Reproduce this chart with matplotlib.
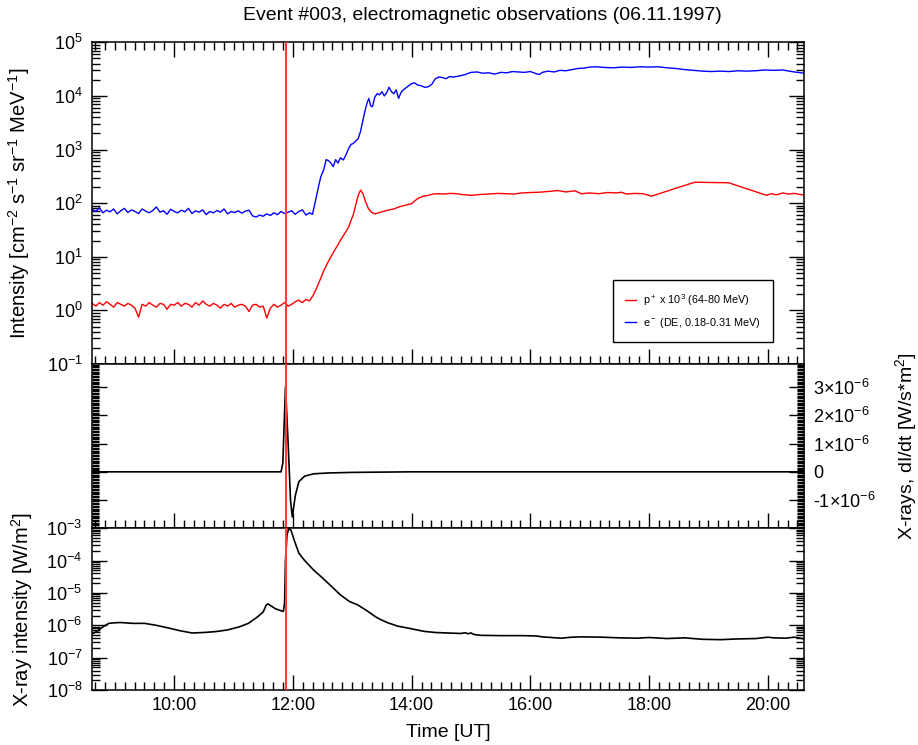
import numpy as np
import matplotlib
matplotlib.use("Agg")
import matplotlib.pyplot as plt
from matplotlib.ticker import MultipleLocator, FixedLocator, FixedFormatter, LogLocator, NullFormatter, FuncFormatter

plt.rcParams['font.family'] = ['Liberation Sans', 'DejaVu Sans']
plt.rcParams['mathtext.fontset'] = 'custom'
plt.rcParams['mathtext.rm'] = 'Liberation Sans'
plt.rcParams['mathtext.it'] = 'Liberation Sans:italic'
plt.rcParams['mathtext.bf'] = 'Liberation Sans:bold'
plt.rcParams['font.size'] = 13

# time in decimal hours (UT)
base_t = [8.62, 8.68, 8.74, 8.80, 8.86, 8.92, 8.98, 9.04, 9.10, 9.16, 9.22, 9.28, 9.34, 9.40,
          9.46, 9.52, 9.58, 9.64, 9.70, 9.76, 9.82, 9.88, 9.94, 10.00, 10.06, 10.12, 10.18,
          10.24, 10.30, 10.36, 10.42, 10.48, 10.54, 10.60, 10.66, 10.72, 10.78, 10.84, 10.90,
          10.96, 11.02, 11.08, 11.14, 11.20, 11.26, 11.32, 11.38, 11.44, 11.50, 11.56, 11.62,
          11.68, 11.74, 11.80, 11.86, 11.92, 11.98, 12.04, 12.10, 12.16, 12.22, 12.28]

# electrons (DE, 0.18-0.31 MeV)
e_base = [76, 70, 82, 66, 74, 69, 78, 63, 72, 80, 67, 75, 70, 64, 78, 71, 66, 73, 85, 68, 72,
          62, 77, 70, 66, 74, 69, 80, 64, 72, 68, 75, 61, 70, 66, 73, 68, 78, 63, 70, 67, 72,
          65, 71, 74, 58, 55, 60, 57, 63, 59, 66, 61, 70, 64, 68, 72, 62, 70, 75, 60, 66]
e_t = [12.33, 12.38, 12.43, 12.47, 12.52, 12.56, 12.60, 12.64, 12.68, 12.72, 12.76, 12.80,
       12.85, 12.89, 12.94, 12.98, 13.02, 13.06, 13.10, 13.14, 13.18, 13.21, 13.25, 13.28,
       13.31, 13.34, 13.38, 13.42, 13.46, 13.50, 13.54, 13.58, 13.62, 13.66, 13.70, 13.74,
       13.78, 13.82, 13.86, 13.90, 13.95, 14.00, 14.05, 14.10, 14.16, 14.22, 14.28, 14.34,
       14.40, 14.46, 14.52, 14.58, 14.64, 14.70, 14.80, 14.90, 15.00, 15.10, 15.20, 15.30,
       15.40, 15.50, 15.60, 15.70, 15.80, 15.90, 16.00, 16.10, 16.15, 16.20, 16.30, 16.40,
       16.50, 16.60, 16.70, 16.80, 16.90, 17.00, 17.10, 17.25, 17.40, 17.55, 17.70, 17.85,
       18.00, 18.15, 18.30, 18.45, 18.60, 18.75, 18.90, 19.05, 19.20, 19.35, 19.50, 19.65,
       19.80, 19.95, 20.10, 20.25, 20.40, 20.50, 20.62]
e_v = [62, 110, 200, 310, 420, 650, 620, 560, 480, 650, 560, 700, 640, 780, 1050, 1250, 1300,
       1450, 1600, 2200, 3500, 5000, 7500, 9000, 6500, 6300, 9500, 11000, 10500, 12000, 10000,
       11500, 14500, 12000, 11000, 13000, 9000, 11500, 13000, 14000, 15500, 17000, 17500,
       16000, 15500, 14500, 14800, 16500, 21000, 22500, 22000, 21000, 23000, 22500, 23500,
       25000, 27500, 28000, 26500, 27000, 25500, 27500, 27000, 28500, 28000, 27500, 28500,
       26000, 25000, 27500, 29000, 28000, 30000, 29500, 31000, 32500, 33000, 34500, 35000,
       34000, 33500, 34500, 34000, 35000, 34500, 35000, 33500, 32500, 31000, 30000, 29000,
       28500, 29000, 28500, 29500, 29000, 29500, 30500, 30000, 30500, 28500, 27500, 26500]

# protons x 10^3 (64-80 MeV)
p_base = [1.35, 1.2, 1.4, 1.25, 1.45, 1.3, 1.15, 1.4, 1.3, 1.2, 1.35, 1.25, 1.1, 0.75, 1.3,
          1.2, 1.4, 1.25, 1.15, 1.35, 1.3, 1.05, 1.3, 1.25, 1.4, 1.2, 1.35, 1.3, 1.15, 1.4,
          1.25, 1.5, 1.3, 1.2, 1.35, 1.25, 1.1, 1.3, 1.2, 1.35, 1.15, 1.25, 1.3, 1.2, 0.95,
          1.25, 1.3, 1.15, 1.2, 0.72, 1.1, 1.3, 1.15, 1.25, 1.4, 1.2, 1.3, 1.45, 1.55, 1.4,
          1.6, 1.5]
p_t = [12.34, 12.40, 12.46, 12.52, 12.58, 12.64, 12.70, 12.76, 12.82, 12.88, 12.94, 12.98,
       13.02, 13.06, 13.10, 13.14, 13.18, 13.22, 13.27, 13.32, 13.38, 13.44, 13.52, 13.60,
       13.70, 13.80, 13.90, 14.00, 14.06, 14.12, 14.20, 14.28, 14.36, 14.44, 14.55, 14.65,
       14.75, 14.85, 15.00, 15.15, 15.30, 15.45, 15.60, 15.73, 15.85, 16.00, 16.15, 16.30,
       16.46, 16.60, 16.75, 16.86, 17.00, 17.15, 17.30, 17.45, 17.53, 17.62, 17.75, 17.90,
       18.04, 18.77, 19.34, 19.98, 20.05, 20.15, 20.25, 20.35, 20.45, 20.55, 20.62]
p_v = [1.9, 2.6, 3.8, 5.5, 7.5, 10, 13, 17, 22, 28, 36, 48, 62, 95, 140, 175, 150, 110, 80,
       68, 63, 66, 70, 74, 78, 86, 92, 98, 112, 125, 135, 140, 148, 150, 148, 152, 150, 145,
       140, 145, 148, 152, 150, 148, 155, 158, 160, 165, 172, 162, 170, 150, 155, 150, 158,
       155, 160, 148, 152, 150, 135, 246, 240, 140, 150, 143, 155, 148, 152, 145, 142]

# X-ray derivative dI/dt [W/s*m^2]
d_t = [8.62, 11.80, 11.83, 11.875, 11.92, 11.96, 11.99, 12.04, 12.10, 12.20, 12.35, 12.60,
       13.00, 14.00, 20.62]
d_v = [0, 0, 0.3e-6, 3.02e-6, 1.0e-6, -1.0e-6, -1.6e-6, -0.85e-6, -0.35e-6, -0.15e-6,
       -0.07e-6, -0.04e-6, -0.02e-6, 0, 0]

# GOES X-ray intensity [W/m^2]
x_t = [8.62, 8.70, 8.80, 8.90, 9.00, 9.10, 9.30, 9.50, 9.70, 9.90, 10.10, 10.30, 10.50,
       10.70, 10.90, 11.10, 11.25, 11.40, 11.50, 11.55, 11.58, 11.63, 11.70, 11.78, 11.84,
       11.86, 11.875, 11.90, 11.93, 11.97, 12.02, 12.10, 12.20, 12.35, 12.50, 12.65, 12.80,
       12.95, 13.09, 13.25, 13.40, 13.48, 13.60, 13.76, 14.00, 14.21, 14.40, 14.60, 14.83,
       14.90, 14.95, 15.00, 15.05, 15.17, 15.50, 15.84, 16.10, 16.20, 16.52, 16.70, 16.86,
       17.20, 17.50, 17.80, 18.00, 18.30, 18.60, 18.90, 19.20, 19.50, 19.80, 20.00, 20.10,
       20.30, 20.45, 20.62]
x_v = [5.5e-7, 6.5e-7, 9e-7, 1.15e-6, 1.2e-6, 1.22e-6, 1.15e-6, 1.15e-6, 1.0e-6, 8.3e-7,
       6.8e-7, 5.8e-7, 6.0e-7, 6.4e-7, 7.2e-7, 9e-7, 1.15e-6, 1.8e-6, 2.6e-6, 4.2e-6, 4.6e-6,
       4.0e-6, 3.3e-6, 2.9e-6, 2.7e-6, 5e-6, 1.0e-4, 6e-4, 1.0e-3, 8.5e-4, 4.4e-4, 1.7e-4,
       1.0e-4, 5.1e-5, 2.9e-5, 1.6e-5, 8.7e-6, 5.5e-6, 4.3e-6, 2.8e-6, 1.8e-6, 1.5e-6,
       1.2e-6, 9.5e-7, 7.8e-7, 6.5e-7, 6.0e-7, 5.8e-7, 5.6e-7, 5.9e-7, 5.5e-7, 5.8e-7,
       5.2e-7, 4.9e-7, 4.8e-7, 4.8e-7, 4.7e-7, 4.4e-7, 4.0e-7, 4.3e-7, 4.4e-7, 4.3e-7,
       4.1e-7, 4.0e-7, 4.2e-7, 3.9e-7, 4.1e-7, 3.7e-7, 3.6e-7, 3.8e-7, 3.9e-7, 4.3e-7,
       4.1e-7, 4.0e-7, 4.3e-7, 3.8e-7]

onset = 11.89
mid_ticks = [-1e-6, 0, 1e-6, 2e-6, 3e-6]
mid_labels = [r'-1$×10^{-6}$', '0', r'1$×10^{-6}$', r'2$×10^{-6}$', r'3$×10^{-6}$']

e_all_t = base_t + e_t
e_all_v = e_base + e_v
p_all_t = base_t + p_t
p_all_v = p_base + p_v

fig = plt.figure(figsize=(9.18, 7.45), dpi=100)
ax1 = fig.add_axes([0.1005, 0.5114, 0.7753, 0.4318])
ax2 = fig.add_axes([0.1005, 0.2909, 0.7753, 0.2205])
ax3 = fig.add_axes([0.1005, 0.0738, 0.7753, 0.2171])

for ax in (ax1, ax2, ax3):
    ax.set_xlim(8.62, 20.61)
    ax.xaxis.set_major_locator(MultipleLocator(2))
    ax.xaxis.set_minor_locator(MultipleLocator(1 / 6))
    ax.tick_params(which='major', direction='in', length=11, width=1)
    ax.tick_params(which='minor', direction='in', length=5.5, width=1)
    ax.tick_params(axis='y', which='both', left=True, right=True)
    for s in ax.spines.values():
        s.set_linewidth(1.1)

# top panel
ax1.plot(p_all_t, p_all_v, color='#ff0000', lw=1.0, label=r'p$^+$ x 10$^3$ (64-80 MeV)')
ax1.plot(e_all_t, e_all_v, color='#0000ff', lw=1.0, label=r'e$^-$ (DE, 0.18-0.31 MeV)')
ax1.set_yscale('log')
ax1.set_ylim(0.1, 1e5)
ax1.yaxis.set_major_locator(LogLocator(base=10, numticks=20))
ax1.yaxis.set_minor_locator(LogLocator(base=10, subs=np.arange(2, 10), numticks=100))
ax1.yaxis.set_minor_formatter(NullFormatter())
ax1.tick_params(axis='x', which='both', top=True, bottom=True, labelbottom=False)
ax1.tick_params(axis='y', pad=7)
ax1.set_ylabel(r'Intensity [cm$^{-2}$ s$^{-1}$ sr$^{-1}$ MeV$^{-1}$]', fontsize=14.5)
ax1.yaxis.set_label_coords(-0.084, 0.5)
leg = ax1.legend(loc='lower left', bbox_to_anchor=(0.7316, 0.0686), fontsize=7.8,
                 handlelength=1.0, labelspacing=0.75, borderpad=1.1, borderaxespad=0,
                 handletextpad=0.7, fancybox=False, edgecolor='black', framealpha=1)
leg.get_frame().set_linewidth(1.0)

# middle panel
ax2.plot(d_t, d_v, color='black', lw=1.2)
ax2.set_ylim(-2.0e-6, 3.82e-6)
ax2.yaxis.set_major_locator(FixedLocator(mid_ticks))
ax2.yaxis.set_major_formatter(FixedFormatter(mid_labels))
ax2.yaxis.set_minor_locator(MultipleLocator(0.05e-6))
ax2.tick_params(axis='y', which='minor', length=5)
ax2.tick_params(axis='y', labelleft=False, labelright=True, pad=6.5)
ax2.tick_params(axis='x', which='both', top=False, bottom=True, labelbottom=False)
ax2.yaxis.set_label_position('right')
ax2.set_ylabel(r'X-rays, dI/dt [W/s*m$^2$]', fontsize=14)
ax2.yaxis.set_label_coords(1.125, 0.5)

# bottom panel
ax3.plot(x_t, x_v, color='black', lw=1.2)
ax3.set_yscale('log')
ax3.set_ylim(1e-8, 1e-3)
ax3.yaxis.set_major_locator(LogLocator(base=10, numticks=20))
ax3.yaxis.set_minor_locator(LogLocator(base=10, subs=np.arange(2, 10), numticks=100))
ax3.yaxis.set_minor_formatter(NullFormatter())
ax3.tick_params(axis='x', which='both', top=False, bottom=True, pad=5)
ax3.tick_params(axis='y', pad=7)
ax3.xaxis.set_major_formatter(FuncFormatter(lambda h, p: '%d:00' % int(round(h))))
ax3.set_ylabel(r'X-ray intensity [W/m$^2$]', fontsize=14.5)
ax3.yaxis.set_label_coords(-0.08, 0.5)
ax3.set_xlabel('Time [UT]', labelpad=7, fontsize=14)

for ax in (ax1, ax2, ax3):
    ax.axvline(onset, color='#ff3b3b', lw=1.5, zorder=3)

fig.text(0.525, 0.979, 'Event #003, electromagnetic observations (06.11.1997)',
         ha='center', va='center', fontsize=14)

fig.savefig('out.png', dpi=100)
